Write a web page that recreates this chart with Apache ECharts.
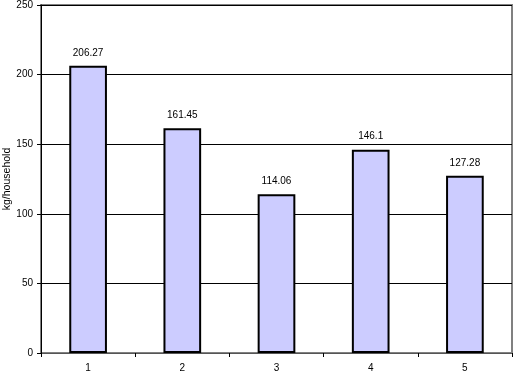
<!DOCTYPE html>
<html><head><meta charset="utf-8">
<script src="https://cdn.jsdelivr.net/npm/echarts@6/dist/echarts.min.js"></script>
<style>html,body{margin:0;padding:0;background:#fff}#c{width:521px;height:379px}</style>
</head><body><div id="c"></div>
<script>
const categories = ['1', '2', '3', '4', '5'];
const values = [206.27, 161.45, 114.06, 146.1, 127.28];
const valueLabels = ['206.27', '161.45', '114.06', '146.1', '127.28'];
const yTicks = [0, 50, 100, 150, 200, 250];

const chart = echarts.init(document.getElementById('c'));
chart.setOption({
  animation: false,
  backgroundColor: '#fff',
  textStyle: { fontFamily: 'Liberation Sans, Arial, sans-serif' },
  grid: { left: 41, right: 9, top: 5, bottom: 26, containLabel: false, outerBoundsMode: 'none',
    show: true, borderColor: '#808080', borderWidth: 2, backgroundColor: 'transparent' },
  xAxis: {
    type: 'category', data: categories,
    axisLine: { show: true, lineStyle: { color: '#555', width: 1 } },
    axisTick: { show: true, alignWithLabel: false, length: 4, lineStyle: { color: '#000' } },
    axisLabel: { fontSize: 10, color: '#000', margin: 10 }
  },
  yAxis: {
    type: 'value', min: yTicks[0], max: yTicks[yTicks.length - 1], interval: 50,
    name: 'kg/household', nameLocation: 'middle', nameRotate: 90, nameGap: 28,
    nameMoveOverlap: false,
    nameTextStyle: { fontSize: 10.5, color: '#000' },
    axisLine: { show: true, lineStyle: { color: '#000', width: 1 } },
    axisTick: { show: true, length: 4, lineStyle: { color: '#000' } },
    axisLabel: { fontSize: 10, color: '#000', margin: 8 },
    splitLine: { show: true, lineStyle: { color: '#000', width: 1 } }
  },
  series: [{
    type: 'bar', data: values, barWidth: '40%',
    itemStyle: { color: '#CCCCFF', borderColor: '#000', borderWidth: 2 },
    label: { show: true, position: 'top', distance: 8, fontSize: 10, color: '#000',
      formatter: p => valueLabels[p.dataIndex] }
  }]
});
</script></body></html>
